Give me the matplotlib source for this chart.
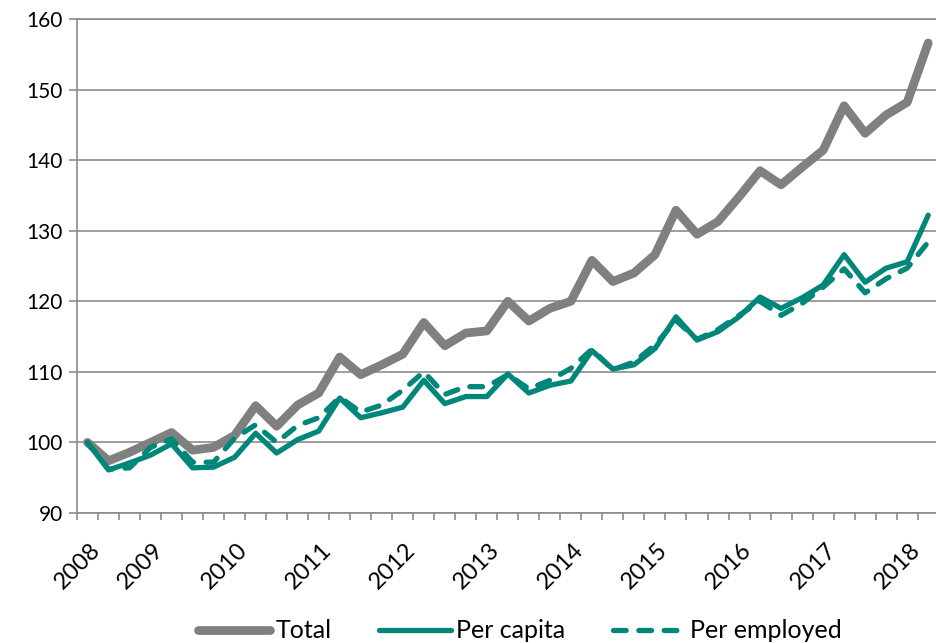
import matplotlib
matplotlib.use("Agg")
import matplotlib.pyplot as plt
from matplotlib.transforms import ScaledTranslation

plt.rcParams['font.family'] = ['Lato', 'DejaVu Sans']

# quarterly index, 2008Q1 = 100
years = ['2008', '2009', '2010', '2011', '2012', '2013',
         '2014', '2015', '2016', '2017', '2018']

total = [100.0, 97.4, 98.6, 100.0, 101.4, 98.9, 99.3, 101.0, 105.2, 102.3,
         105.3, 107.0, 112.1, 109.6, 111.0, 112.5, 117.0, 113.7, 115.5, 115.8,
         120.0, 117.2, 119.0, 120.0, 125.8, 122.8, 124.0, 126.6, 132.9, 129.5,
         131.3, 134.8, 138.5, 136.5, 139.0, 141.4, 147.7, 143.8, 146.4, 148.2,
         156.6]

per_capita = [100.0, 96.1, 97.1, 98.2, 99.8, 96.4, 96.5, 97.9, 101.3, 98.5,
              100.4, 101.6, 106.3, 103.5, 104.2, 105.0, 108.8, 105.5, 106.5, 106.5,
              109.7, 107.0, 108.1, 108.7, 113.0, 110.4, 111.0, 113.3, 117.8, 114.5,
              115.7, 117.8, 120.6, 119.0, 120.5, 122.3, 126.6, 122.7, 124.7, 125.6,
              132.2]

per_employed = [100.0, 96.2, 96.4, 99.3, 100.5, 97.2, 97.2, 100.6, 102.5, 100.0,
                102.4, 103.5, 106.4, 104.3, 105.3, 107.4, 110.0, 106.8, 107.9, 107.9,
                109.6, 107.6, 108.8, 110.5, 113.2, 110.3, 111.4, 113.8, 117.3, 114.6,
                116.0, 118.0, 120.0, 118.0, 119.7, 122.0, 124.6, 121.2, 123.2, 124.7,
                128.4]

gray = '#808080'
teal = '#00877a'
axis_gray = '#8c8c8c'

fig = plt.figure(figsize=(9.36, 6.43), dpi=100)
ax = fig.add_axes([77 / 936, 130 / 643, 861.7 / 936, 494 / 643])

x = list(range(len(total)))
ax.plot(x, total, color=gray, lw=6.3, solid_capstyle='round',
        solid_joinstyle='round', label='Total', zorder=3)
ax.plot(x, per_capita, color=teal, lw=3.8, solid_capstyle='round',
        solid_joinstyle='round', label='Per capita', zorder=4)
ax.plot(x, per_employed, color=teal, lw=3.8, dashes=(2.4, 2.4),
        dash_capstyle='round', dash_joinstyle='round', label='Per employed', zorder=5)

ax.set_xlim(-0.5, len(total) - 0.5)
ax.set_ylim(90, 160)
ax.set_yticks(range(90, 161, 10))
ax.yaxis.grid(True, color=axis_gray, lw=1.2)
ax.set_axisbelow(True)

ax.spines['right'].set_visible(False)
for s in ['left', 'bottom', 'top']:
    ax.spines[s].set_color(axis_gray)
    ax.spines[s].set_linewidth(1.2)

ax.tick_params(axis='y', direction='out', length=6, width=1.2, color=axis_gray,
               labelsize=15, pad=4)

# year labels every 4 quarters, tick marks between quarters
ax.set_xticks(range(0, len(total), 4))
ax.set_xticklabels(years, rotation=45, ha='right', va='top', rotation_mode='anchor')
ax.set_xticks([i - 0.5 for i in range(len(total) + 1)], minor=True)
ax.tick_params(axis='x', which='major', length=0, labelsize=17, pad=19)
ax.tick_params(axis='x', which='minor', direction='out', length=5, width=1.2,
               color=axis_gray)
for i, lab in enumerate(ax.get_xticklabels()):
    dx = 2 / 100 if i == 0 else -19 / 100
    lab.set_transform(lab.get_transform() + ScaledTranslation(dx, 0, fig.dpi_scale_trans))

leg = ax.legend(loc='center', bbox_to_anchor=(520 / 936, 12 / 643),
                bbox_transform=fig.transFigure, ncol=3, frameon=False,
                fontsize=18, handlelength=2.9, handletextpad=0.2,
                columnspacing=1.9)

fig.savefig('out.png', dpi=100)
